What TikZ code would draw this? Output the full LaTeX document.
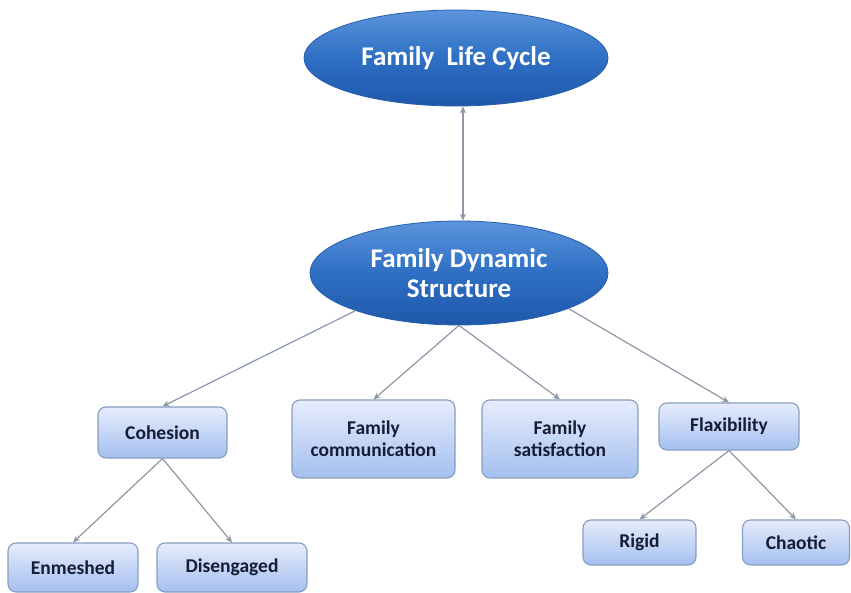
\documentclass[tikz,border=0pt]{standalone}
\usepackage{fontspec}
\setmainfont{Carlito}
\usetikzlibrary{shapes.geometric,arrows.meta}
\definecolor{ellmid}{RGB}{46,111,196}
\definecolor{elltop}{RGB}{92,148,220}
\definecolor{ellbot}{RGB}{30,88,170}
\definecolor{ellborder}{RGB}{40,95,175}
\definecolor{boxtop}{RGB}{230,236,252}
\definecolor{boxbot}{RGB}{164,192,240}
\definecolor{boxborder}{RGB}{136,158,192}
\definecolor{boxtext}{RGB}{22,28,52}
\definecolor{arrcol}{RGB}{140,152,168}
\tikzset{
  bigell/.style={ellipse, inner sep=0pt, draw=ellborder, line width=0.8pt,
    top color=elltop, bottom color=ellbot, middle color=ellmid,
    text=white, font=\bfseries\fontsize{27}{30}\selectfont, align=center},
  rbox/.style={rectangle, rounded corners=8pt, inner sep=0pt, draw=boxborder, line width=1.1pt,
    top color=boxtop, bottom color=boxbot,
    text=boxtext, font=\bfseries\fontsize{19.5}{22}\selectfont, align=center},
  arr/.style={draw=arrcol, line width=1.2pt, -{Stealth[length=7pt,width=6pt]}},
  darr/.style={draw=arrcol, line width=1.2pt, {Stealth[length=7pt,width=6pt]}-{Stealth[length=7pt,width=6pt]}}
}
\begin{document}
\begin{tikzpicture}[x=1pt,y=-1pt]
\useasboundingbox[fill=white] (0,0) rectangle (851,593);
\node[bigell, minimum width=304pt, minimum height=96pt] (e1) at (456,58) {Family~ Life Cycle};
\node[bigell, minimum width=298pt, minimum height=104pt] (e2) at (459,273) {Family Dynamic\\Structure};

\node[rbox, minimum width=129pt, minimum height=51pt] (coh) at (162.5,432.5) {Cohesion};
\node[rbox, minimum width=163pt, minimum height=78pt] (com) at (373.5,439) {Family\\communication};
\node[rbox, minimum width=156pt, minimum height=78pt] (sat) at (560,439) {Family\\satisfaction};
\node[rbox, minimum width=140pt, minimum height=47pt] (fla) at (729,426.5) {Flaxibility};
\node[rbox, minimum width=113pt, minimum height=45pt] (rig) at (639.5,542.5) {Rigid};
\node[rbox, minimum width=107pt, minimum height=45pt] (cha) at (796,542.5) {Chaotic};
\node[rbox, minimum width=130pt, minimum height=49pt] (enm) at (73,567.5) {Enmeshed};
\node[rbox, minimum width=150pt, minimum height=49pt] (dis) at (232,567.5) {Disengaged};

\coordinate (vx) at (463,0);
\draw[darr] (e1.south -| vx) -- (e2.north -| vx);
\draw[arr] (e2.200) -- (coh.north);
\draw[arr] (e2.south) -- (com.north);
\draw[arr] (e2.south) -- (sat.north);
\draw[arr] (e2.-18) -- (fla.north);
\draw[arr] (coh.south) -- (enm.north);
\draw[arr] (coh.south) -- (dis.north);
\draw[arr] (fla.south) -- (rig.north);
\draw[arr] (fla.south) -- (cha.north);
\end{tikzpicture}
\end{document}
